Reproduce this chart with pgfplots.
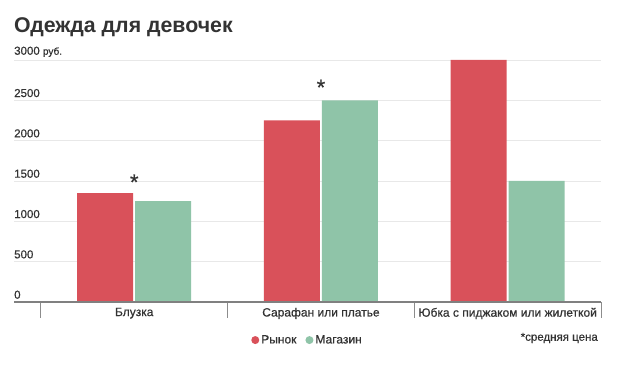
\documentclass[border=0pt]{standalone}
\usepackage{pgfplots}
\pgfplotsset{compat=1.18}
\usepackage{fontspec}
\setmainfont{Liberation Sans}
\newfontfamily\medfont[FakeBold=0.6]{Liberation Sans}
\definecolor{rred}{HTML}{D9515A}
\definecolor{rgreen}{HTML}{8FC4A8}
\definecolor{txt}{HTML}{333333}
\begin{document}
\begin{tikzpicture}[x=1pt,y=1pt]
\fill[white] (0,0) rectangle (620,371);
\useasboundingbox (0,0) rectangle (620,371);
\node[anchor=west, inner sep=0pt, font=\fontsize{21.3}{24}\selectfont\bfseries, text=txt] at (14,344) {Одежда для девочек};
\begin{axis}[
  at={(14pt,69pt)}, anchor=south west,
  scale only axis, width=587pt, height=242pt,
  xmin=-0.644, xmax=2.5, ymin=0, ymax=3000,
  clip=false,
  ybar, bar width=56pt,
  axis line style={draw=none},
  xtick pos=bottom,
  xtick={0,1,2},
  xticklabels={Блузка, Сарафан или платье, Юбка с пиджаком или жилеткой},
  xticklabel style={font=\medfont\fontsize{12}{14}\selectfont, text=txt, anchor=north, yshift=2pt},
  xtick style={draw=none},
  extra x ticks={-0.5,0.5,1.5,2.5},
  extra x tick labels={},
  extra x tick style={xtick style={draw=black!45, line width=0.8pt}, tick align=outside, major tick length=16pt, grid=none, xtick pos=bottom},
  ytick={0,500,1000,1500,2000,2500,3000},
  yticklabels={0,500,1000,1500,2000,2500,{3000 {\fontsize{10}{11}\selectfont руб.}}},
  yticklabel style={font=\medfont\fontsize{11.5}{14}\selectfont, text=txt, anchor=south west, inner sep=0pt, yshift=3pt},
  ytick style={draw=none},
  ymajorgrids, major grid style={draw=black!9, line width=0.8pt},
  legend style={at={(0.5,0)}, anchor=north, yshift=-29pt, draw=none, fill=none,
     font=\medfont\fontsize{12}{14}\selectfont, text=txt, legend columns=2,
     /tikz/every even column/.append style={column sep=7pt}},
  legend image code/.code={\fill[#1] (1pt,0pt) circle (4pt);},
]
\addplot[fill=rred, draw=none, bar shift=-29pt] coordinates {(0,1350) (1,2250) (2,3000)};
\addplot[fill=rgreen, draw=none, bar shift=29pt] coordinates {(0,1250) (1,2500) (2,1500)};
\legend{Рынок, Магазин}
\draw[black!50, line width=1.3pt] (axis cs:-0.644,0) -- (axis cs:2.5,0);
\node[font=\medfont\fontsize{22}{24}\selectfont, text=txt, inner sep=0pt] at (axis cs:0,1350) [yshift=11pt] {*};
\node[font=\medfont\fontsize{22}{24}\selectfont, text=txt, inner sep=0pt] at (axis cs:1,2500) [yshift=13pt] {*};
\node[anchor=east, inner sep=0pt, font=\medfont\fontsize{11.5}{14}\selectfont, text=txt] at (rel axis cs:1,0) [xshift=-3pt, yshift=-36pt] {*средняя цена};
\end{axis}
\end{tikzpicture}
\end{document}
